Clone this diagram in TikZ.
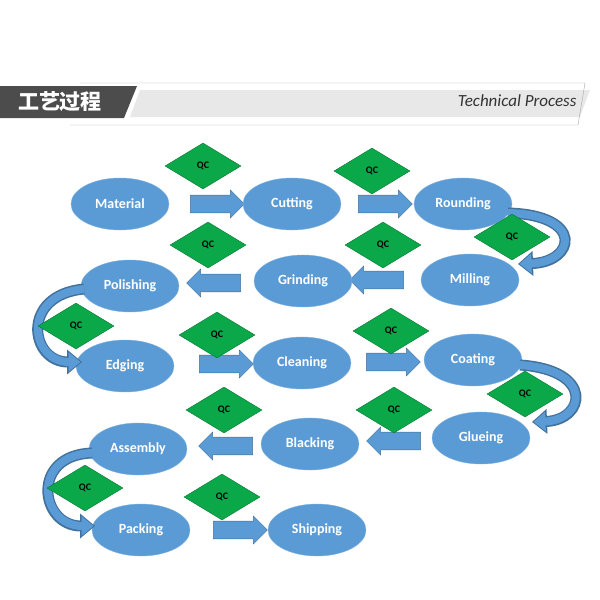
\documentclass[tikz,border=0pt]{standalone}
\usepackage{fontspec}
\setmainfont{Carlito}
\newfontfamily\cjk{Noto Sans CJK SC}
\usetikzlibrary{shapes.geometric,shapes.arrows,arrows.meta}
\definecolor{eb}{HTML}{5B9BD5}
\definecolor{ebd}{HTML}{41719C}
\definecolor{qg}{HTML}{0BA84A}
\tikzset{
 st/.style={ellipse,fill=eb,draw=eb!80!white,minimum width=98pt,minimum height=52pt,text=white,font=\bfseries\fontsize{14}{14}\selectfont},
 qc/.style={diamond,fill=qg,draw=qg!70!black,aspect=1.7,minimum width=76pt,minimum height=46pt,inner sep=0pt,font=\bfseries\fontsize{10}{10}\selectfont},
 ar/.style={single arrow,fill=eb,draw=ebd,minimum height=54pt,minimum width=28pt,single arrow head extend=3pt,inner sep=5pt},
 la/.style={ar,shape border rotate=180},
 cvo/.style={line width=11pt,draw=ebd,-{Triangle[length=15pt,width=24pt]}},
 cv/.style={line width=8pt,draw=eb,-{Triangle[length=12pt,width=19pt]}},
}
\begin{document}
\begin{tikzpicture}[x=1pt,y=-1pt]
\useasboundingbox (0,0) rectangle (600,600);
% header
\fill[gray!18] (140,90) -- (590,90) -- (580,117) -- (130,117) -- cycle;
\draw[gray!70] (80,83) -- (585,83) -- (578,125) -- (70,125);
\fill[black!70] (0,86) -- (137,86) -- (124,118) -- (0,118) -- cycle;
\node[text=white,font=\cjk\bfseries\fontsize{21}{21}\selectfont] (hz) at (60,102) {工艺过程};
\node[anchor=east,font=\itshape\fontsize{17}{17}\selectfont,text=black!80] (he) at (580,101) {Technical Process};
% arrows (behind)
\node[ar] (a1) at (213,204) {};
\node[ar] (a2) at (381,204) {};
\node[la] (a3) at (381,280) {};
\node[la] (a4) at (218,283) {};
\node[ar] (a5) at (222,364) {};
\node[ar] (a6) at (389,362) {};
\node[la] (a7) at (398,441) {};
\node[la] (a8) at (230,446) {};
\node[ar] (a9) at (236,530) {};
% stations
\node[st] (m1) at (120,204) {Material};
\node[st] (m2) at (292,204) {Cutting};
\node[st] (m3) at (463,204) {Rounding};
\node[st] (m4) at (470,280) {Milling};
\node[st] (m5) at (303,281) {Grinding};
\node[st] (m6) at (130,286) {Polishing};
\node[st] (m7) at (125,366) {Edging};
\node[st] (m8) at (302,363) {Cleaning};
\node[st] (m9) at (473,360) {Coating};
\node[st] (m10) at (481,438) {Glueing};
\node[st] (m11) at (310,444) {Blacking};
\node[st] (m12) at (138,449) {Assembly};
\node[st] (m13) at (141,530) {Packing};
\node[st] (m14) at (317,530) {Shipping};
% curved arrows
\coordinate (c1s) at (508,213); \coordinate (c1e) at (518,264);
\draw[cvo] (c1s) .. controls (585,215) and (575,262) .. (c1e);
\draw[cv,shorten >=1.5pt] (c1s) .. controls (585,215) and (575,262) .. (c1e);
\coordinate (c2s) at (84,289); \coordinate (c2e) at (82,362);
\draw[cvo] (c2s) .. controls (20,295) and (30,362) .. (c2e);
\draw[cv,shorten >=1.5pt] (c2s) .. controls (20,295) and (30,362) .. (c2e);
\coordinate (c3s) at (520,365); \coordinate (c3e) at (532,422);
\draw[cvo] (c3s) .. controls (595,370) and (585,420) .. (c3e);
\draw[cv,shorten >=1.5pt] (c3s) .. controls (595,370) and (585,420) .. (c3e);
\coordinate (c4s) at (92,453); \coordinate (c4e) at (95,526);
\draw[cvo] (c4s) .. controls (30,455) and (40,526) .. (c4e);
\draw[cv,shorten >=1.5pt] (c4s) .. controls (30,455) and (40,526) .. (c4e);
% QC
\node[qc] (q1) at (203,166) {QC};
\node[qc] (q2) at (372,171) {QC};
\node[qc] (q3) at (512,237) {QC};
\node[qc] (q4) at (208,245) {QC};
\node[qc] (q5) at (383,245) {QC};
\node[qc] (q6) at (76,326) {QC};
\node[qc] (q7) at (217,335) {QC};
\node[qc] (q8) at (391,331) {QC};
\node[qc] (q9) at (525,394) {QC};
\node[qc] (q10) at (224,410) {QC};
\node[qc] (q11) at (394,410) {QC};
\node[qc] (q12) at (85,488) {QC};
\node[qc] (q13) at (222,497) {QC};
\end{tikzpicture}
\end{document}
